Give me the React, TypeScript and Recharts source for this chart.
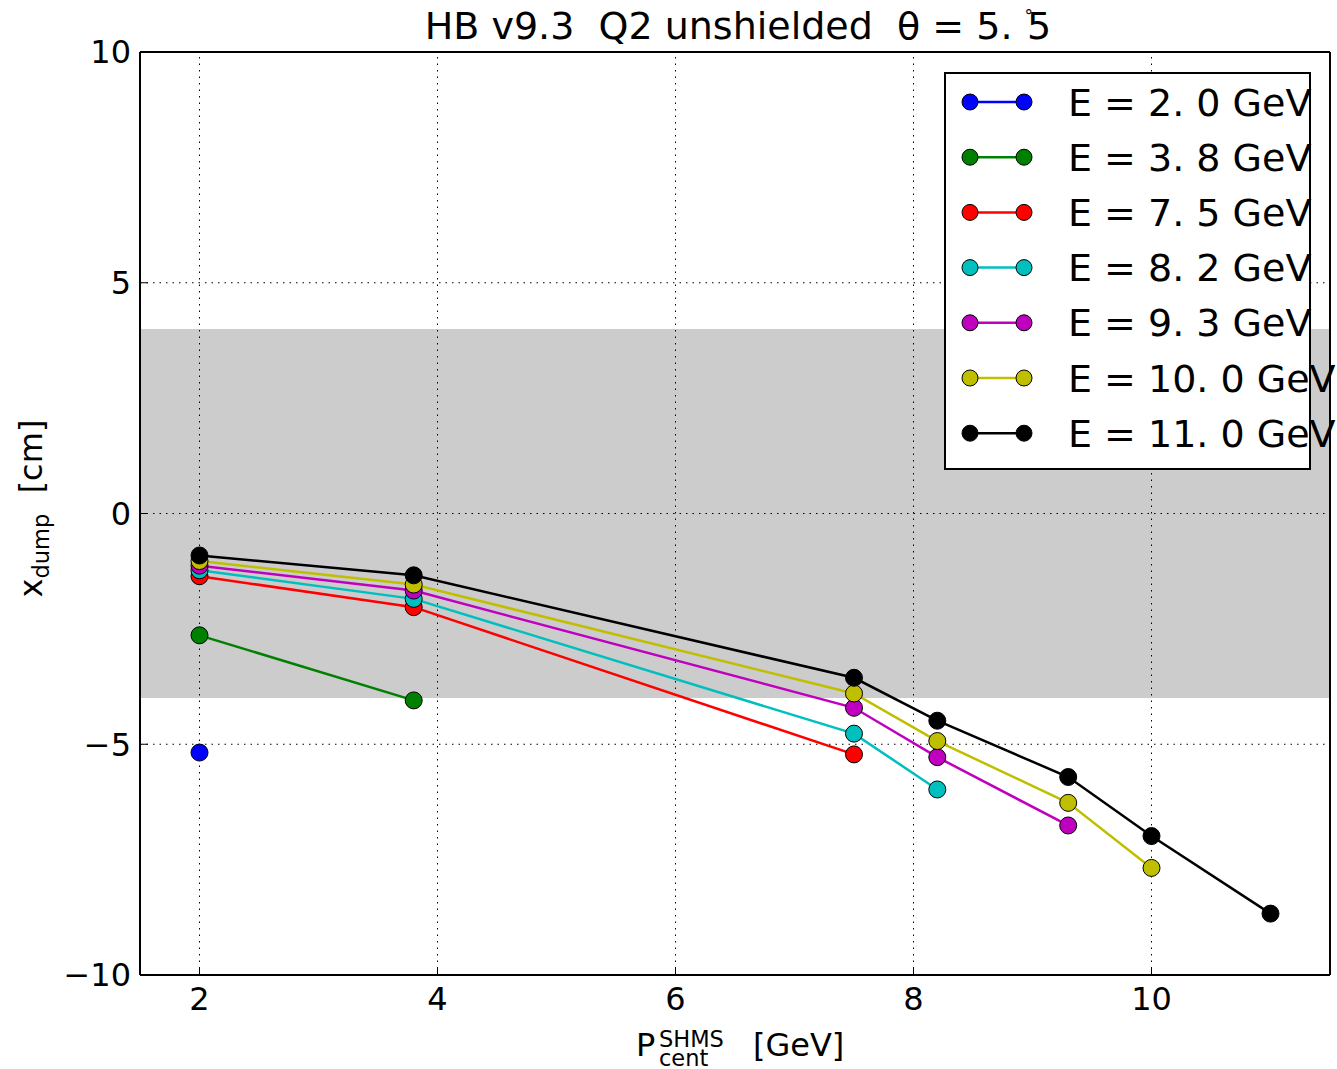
import React from 'react';
import { ComposedChart, Line, XAxis, YAxis, ReferenceArea, ReferenceLine, Legend } from 'recharts';

const P_CENT = [2.0, 3.8, 7.5, 8.2, 9.3, 10.0, 11.0];
const X_E20 = [-5.18];
const X_E38 = [-2.64, -4.05];
const X_E75 = [-1.36, -2.03, -5.22];
const X_E82 = [-1.23, -1.85, -4.77, -5.98];
const X_E93 = [-1.13, -1.67, -4.21, -5.28, -6.76];
const X_E100 = [-1.03, -1.54, -3.9, -4.93, -6.27, -7.68];
const X_E110 = [-0.91, -1.34, -3.56, -4.49, -5.71, -6.99, -8.67];
const SERIES_VALUES = [X_E20, X_E38, X_E75, X_E82, X_E93, X_E100, X_E110];
const SERIES_NAMES = ['E = 2. 0 GeV', 'E = 3. 8 GeV', 'E = 7. 5 GeV', 'E = 8. 2 GeV', 'E = 9. 3 GeV', 'E = 10. 0 GeV', 'E = 11. 0 GeV'];
const SERIES_COLORS = ['#0000ff', '#008000', '#ff0000', '#00bfbf', '#bf00bf', '#bfbf00', '#000000'];
const X_TICKS = [2, 4, 6, 8, 10];
const Y_TICKS = [-10, -5, 0, 5, 10];
const X_DOMAIN = [1.5, 11.5];
const Y_DOMAIN = [-10, 10];
const BAND = [-4, 4];

const FONT = 'DejaVu Sans';

const seriesData = SERIES_VALUES.map((vals) => vals.map((y, i) => ({ x: P_CENT[i], y })));

const TitleLabel = (props: any) => {
  const vb = props.viewBox || {};
  const cx = vb.x + vb.width / 2 + 3;
  return (
    <text x={cx} y={39} textAnchor="middle" fontFamily={FONT} fontSize={38} fill="#000" style={{ whiteSpace: 'pre' }}>
      <tspan>{'HB v9.3  Q2 unshielded  θ = 5. '}</tspan>
      <tspan fontSize={17} dy={-17}>°</tspan>
      <tspan dx={-6} dy={17}>5</tspan>
    </text>
  );
};

const XLabel = (props: any) => {
  const vb = props.viewBox || {};
  const cx = vb.x + vb.width / 2;
  return (
    <g fontFamily={FONT} fill="#000">
      <text x={cx - 99} y={1056} fontSize={32}>P</text>
      <text x={cx - 76} y={1047} fontSize={22.5}>SHMS</text>
      <text x={cx - 76} y={1066} fontSize={22.5}>cent</text>
      <text x={cx + 18} y={1056} fontSize={32}>[GeV]</text>
    </g>
  );
};

const YLabel = (props: any) => {
  const vb = props.viewBox || {};
  const cy = vb.y + vb.height / 2 - 5;
  const bx = 42;
  return (
    <text
      x={bx}
      y={cy}
      transform={`rotate(-90 ${bx} ${cy})`}
      textAnchor="middle"
      fontFamily={FONT}
      fontSize={32}
      fill="#000"
      style={{ whiteSpace: 'pre' }}
    >
      <tspan>x</tspan>
      <tspan fontSize={22.5} dy={7}>dump</tspan>
      <tspan dy={-7}>{'  [cm]'}</tspan>
    </text>
  );
};

const renderLegend = () => {
  const w = 367;
  const h = 398;
  return (
    <svg width={w} height={h} style={{ overflow: 'visible', display: 'block' }}>
      <rect x={1} y={1} width={w - 2} height={h - 2} fill="#fff" stroke="#000" strokeWidth={2} />
      {SERIES_NAMES.map((name, i) => {
        const cy = 30 + i * 55.2;
        return (
          <g key={name}>
            <line x1={26} x2={80} y1={cy} y2={cy} stroke={SERIES_COLORS[i]} strokeWidth={2.5} />
            <circle cx={26} cy={cy} r={8} fill={SERIES_COLORS[i]} stroke="#000" strokeWidth={1} />
            <circle cx={80} cy={cy} r={8} fill={SERIES_COLORS[i]} stroke="#000" strokeWidth={1} />
            <text x={124} y={cy} dy="0.36em" fontFamily={FONT} fontSize={38} fill="#000" style={{ whiteSpace: 'pre' }}>
              {name}
            </text>
          </g>
        );
      })}
    </svg>
  );
};

const tickStyle = { fill: '#000', fontSize: 32, fontFamily: FONT };
const axisLineStyle = { stroke: '#000', strokeWidth: 2 };
const tickLineStyle = { stroke: '#000', strokeWidth: 1 };

export default function App() {
  return (
    <div style={{ position: 'absolute', left: 0, top: 0, width: 1337, height: 1069, background: '#fff' }}>
      <ComposedChart width={1337} height={1069} margin={{ top: 0, right: 0, bottom: 0, left: 0 }}>
        <XAxis
          xAxisId="b"
          type="number"
          dataKey="x"
          domain={X_DOMAIN}
          ticks={X_TICKS}
          interval={0}
          allowDataOverflow
          height={94}
          tickSize={-8}
          tickMargin={20}
          axisLine={axisLineStyle}
          tickLine={tickLineStyle}
          tick={tickStyle}
          label={{ content: XLabel }}
        />
        <XAxis
          xAxisId="t"
          orientation="top"
          type="number"
          dataKey="x"
          domain={X_DOMAIN}
          ticks={X_TICKS}
          interval={0}
          allowDataOverflow
          height={52}
          tickSize={-8}
          axisLine={axisLineStyle}
          tickLine={tickLineStyle}
          tick={false}
          label={{ content: TitleLabel }}
        />
        <YAxis
          yAxisId="l"
          type="number"
          domain={Y_DOMAIN}
          ticks={Y_TICKS}
          interval={0}
          allowDataOverflow
          width={140}
          tickSize={-8}
          tickMargin={17}
          axisLine={axisLineStyle}
          tickLine={tickLineStyle}
          tick={tickStyle}
          tickFormatter={(v: number) => (v < 0 ? `\u2212${Math.abs(v)}` : `${v}`)}
          label={{ content: YLabel }}
        />
        <YAxis
          yAxisId="r"
          orientation="right"
          type="number"
          domain={Y_DOMAIN}
          ticks={Y_TICKS}
          interval={0}
          allowDataOverflow
          width={7}
          tickSize={-8}
          axisLine={axisLineStyle}
          tickLine={tickLineStyle}
          tick={false}
        />
        <ReferenceArea xAxisId="b" yAxisId="l" y1={BAND[0]} y2={BAND[1]} fill="#cccccc" fillOpacity={1} stroke="none" ifOverflow="hidden" />
        {X_TICKS.map((v) => (
          <ReferenceLine key={`gx${v}`} xAxisId="b" yAxisId="l" x={v} stroke="#000" strokeWidth={1} strokeDasharray="1.5 5" />
        ))}
        {Y_TICKS.filter((v) => v > Y_DOMAIN[0] && v < Y_DOMAIN[1]).map((v) => (
          <ReferenceLine key={`gy${v}`} xAxisId="b" yAxisId="l" y={v} stroke="#000" strokeWidth={1} strokeDasharray="1.5 5" />
        ))}
        {seriesData.map((d, i) => (
          <Line
            key={SERIES_NAMES[i]}
            name={SERIES_NAMES[i]}
            xAxisId="b"
            yAxisId="l"
            data={d}
            dataKey="y"
            type="linear"
            stroke={SERIES_COLORS[i]}
            strokeWidth={2.5}
            dot={{ r: 8.5, fill: SERIES_COLORS[i], stroke: '#000', strokeWidth: 1 }}
            activeDot={false}
            isAnimationActive={false}
          />
        ))}
        <Legend
          content={renderLegend}
          layout="vertical"
          align="center"
          verticalAlign="middle"
          wrapperStyle={{ left: 944, top: 72, width: 367, height: 398 }}
        />
      </ComposedChart>
    </div>
  );
}
